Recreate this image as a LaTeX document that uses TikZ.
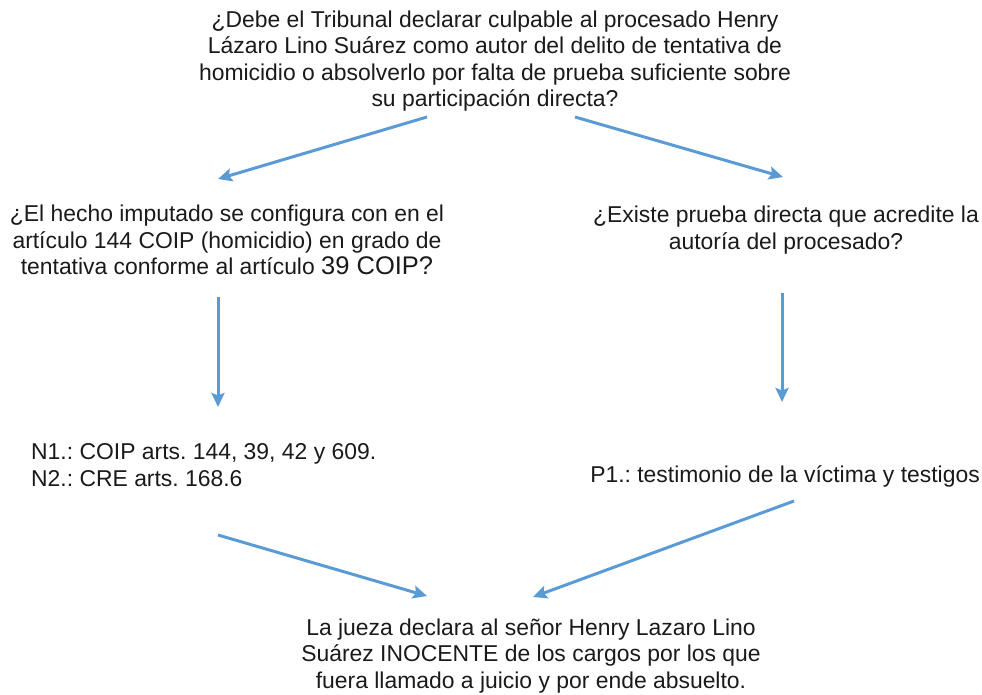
\documentclass[tikz,border=0pt]{standalone}
\usepackage{fontspec}
\setmainfont{Liberation Sans}
\usetikzlibrary{arrows.meta}
\definecolor{arrowblue}{HTML}{5B9BD5}
\definecolor{txt}{HTML}{1A1A1A}
\frenchspacing
\tikzset{
  lbl/.style={inner sep=0pt, text=txt, font=\fontsize{22.9}{26.5}\selectfont, align=center},
  lbll/.style={inner sep=0pt, text=txt, font=\fontsize{22.9}{26.5}\selectfont, align=left},
  conn/.style={draw=arrowblue, line width=3pt, -{Stealth[length=14pt,width=13pt,inset=2.5pt]}}
}
\begin{document}
\begin{tikzpicture}[x=1pt,y=-1pt]
\useasboundingbox (0,0) rectangle (982,695);
\node[lbl] (q) at (495,61) {¿Debe el Tribunal declarar culpable al procesado Henry\\Lázaro Lino Suárez como autor del delito de tentativa de\\homicidio o absolverlo por falta de prueba suficiente sobre\\su participación directa?};
\node[lbl] (l) at (227,240) {¿El hecho imputado se configura con en el\\artículo 144 COIP (homicidio) en grado de\\tentativa conforme al artículo {\fontsize{25.5}{26.5}\selectfont 39 COIP?}};
\node[lbl] (r) at (786,230) {¿Existe prueba directa que acredite la\\autoría del procesado?};
\node[lbll, anchor=west] (n) at (31,465) {N1.: COIP arts. 144, 39, 42 y 609.\\N2.: CRE arts. 168.6};
\node[lbl] (p) at (785,476) {P1.: testimonio de la víctima y testigos};
\node[lbl] (c) at (531,656) {La jueza declara al señor Henry Lazaro Lino\\Suárez INOCENTE de los cargos por los que\\fuera llamado a juicio y por ende absuelto.};
\coordinate (a1s) at (427,117); \coordinate (a1e) at (218,179);
\coordinate (a2s) at (575,117); \coordinate (a2e) at (783,177);
\coordinate (a3s) at (218,297); \coordinate (a3e) at (218,407);
\coordinate (a4s) at (782,293); \coordinate (a4e) at (782,402);
\coordinate (a5s) at (218,535); \coordinate (a5e) at (427,596);
\coordinate (a6s) at (794,501); \coordinate (a6e) at (533,597);
\draw[conn] (a1s) -- (a1e);
\draw[conn] (a2s) -- (a2e);
\draw[conn] (a3s) -- (a3e);
\draw[conn] (a4s) -- (a4e);
\draw[conn] (a5s) -- (a5e);
\draw[conn] (a6s) -- (a6e);
\end{tikzpicture}
\end{document}
